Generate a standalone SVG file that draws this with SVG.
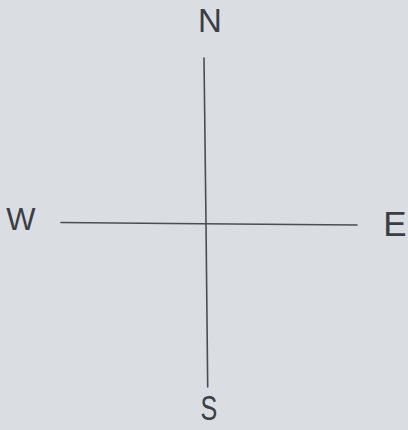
<svg xmlns="http://www.w3.org/2000/svg" width="408" height="430" viewBox="0 0 408 430">
  <style>
    .lbl { font-family: "Liberation Sans", Arial, sans-serif; fill: #3b3e44; text-anchor: middle; }
    .axis { stroke: #4a4d52; stroke-width: 1.6; fill: none; stroke-linecap: round; }
  </style>
  <rect x="0" y="0" width="408" height="430" fill="#dadde1"/>
  <g id="connectors">
    <path class="axis" d="M61 222.5 L170 223.5 L357 225"/>
    <path class="axis" d="M204 58 L206 223 L207.7 387"/>
  </g>
  <g id="node-N"><text class="lbl" x="210" y="32" font-size="33">N</text></g>
  <g id="node-W"><text class="lbl" x="21" y="230" font-size="31">W</text></g>
  <g id="node-E"><text class="lbl" x="395" y="236" font-size="35">E</text></g>
  <g id="node-S"><text class="lbl" x="209" y="420" font-size="36" transform="translate(209 0) scale(0.7 1) translate(-209 0)">S</text></g>
</svg>
